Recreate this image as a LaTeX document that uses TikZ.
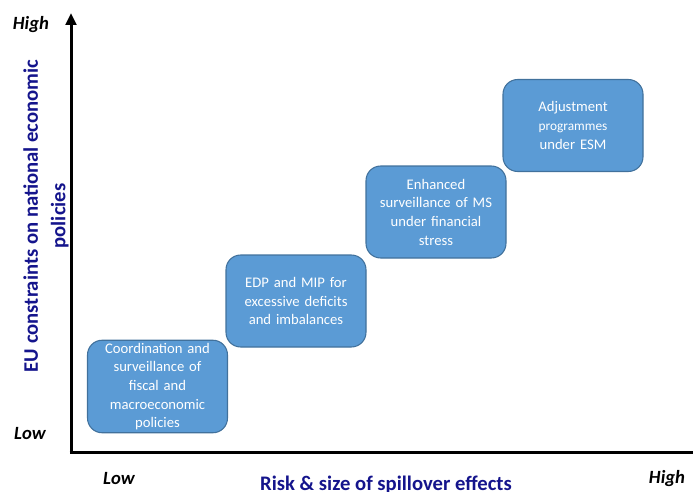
\documentclass[tikz,border=0pt]{standalone}
\usepackage{fontspec}
\setmainfont{Carlito}
\usetikzlibrary{positioning}
\usetikzlibrary{arrows.meta}
\definecolor{stageFill}{RGB}{91,155,213}
\definecolor{stageBorder}{RGB}{65,113,156}
\definecolor{axisLabelColor}{RGB}{20,20,140}

\begin{document}
\begin{tikzpicture}[x=0.75pt, y=-0.75pt,
    stage/.style={draw=stageBorder, fill=stageFill, line width=0.8pt, rounded corners=11pt,
        minimum width=105pt, minimum height=69pt, text width=98pt, align=center,
        text=white, font=\fontsize{11}{14}\selectfont, inner sep=2pt},
    axis/.style={line width=2.25pt},
    level/.style={font=\fontsize{14}{16}\selectfont\bfseries\itshape},
    axislabel/.style={text=axisLabelColor, font=\fontsize{15.5}{20.5}\selectfont\bfseries, align=center}
  ]
    \clip (0,0) rectangle (693,492);

    % axes
    \coordinate (origin) at (71,452);
    \coordinate (ytop) at (71,13);
    \coordinate (xend) at (706,452);
    \draw[axis, -{Triangle[length=9pt, width=8pt]}] (origin) -- (ytop);
    \draw[axis, -{Triangle[length=9pt, width=8pt]}] ([xshift=-1.1pt]origin) -- (xend);

    % stages
    \node[stage] (coord) at (157.5,386.5) {Coordination and\\surveillance of\\fiscal and\\macroeconomic\\policies};
    \node[stage] (edp) at (296,301) {EDP and MIP for\\excessive deficits\\and imbalances};
    \node[stage] (stress) at (436,212) {Enhanced\\surveillance of MS\\under financial\\stress};
    \node[stage] (esm) at (573,125.5) {Adjustment\\{\fontsize{10}{14}\selectfont programmes}\\under ESM};

    % scale labels
    \node[level] (yhigh) at (31,25) {High};
    \node[level] (ylow) at (30,434) {Low};
    \node[level] (xlow) at (119,479) {Low};
    \node[level] (xhigh) at (667,479) {High};

    \node[axislabel, rotate=90] (ylabel) at (46,216) {EU constraints on national economic\\policies};
    \node[axislabel, anchor=base] (xlabel) at (386,490) {Risk \& size of spillover effects};
\end{tikzpicture}
\end{document}
